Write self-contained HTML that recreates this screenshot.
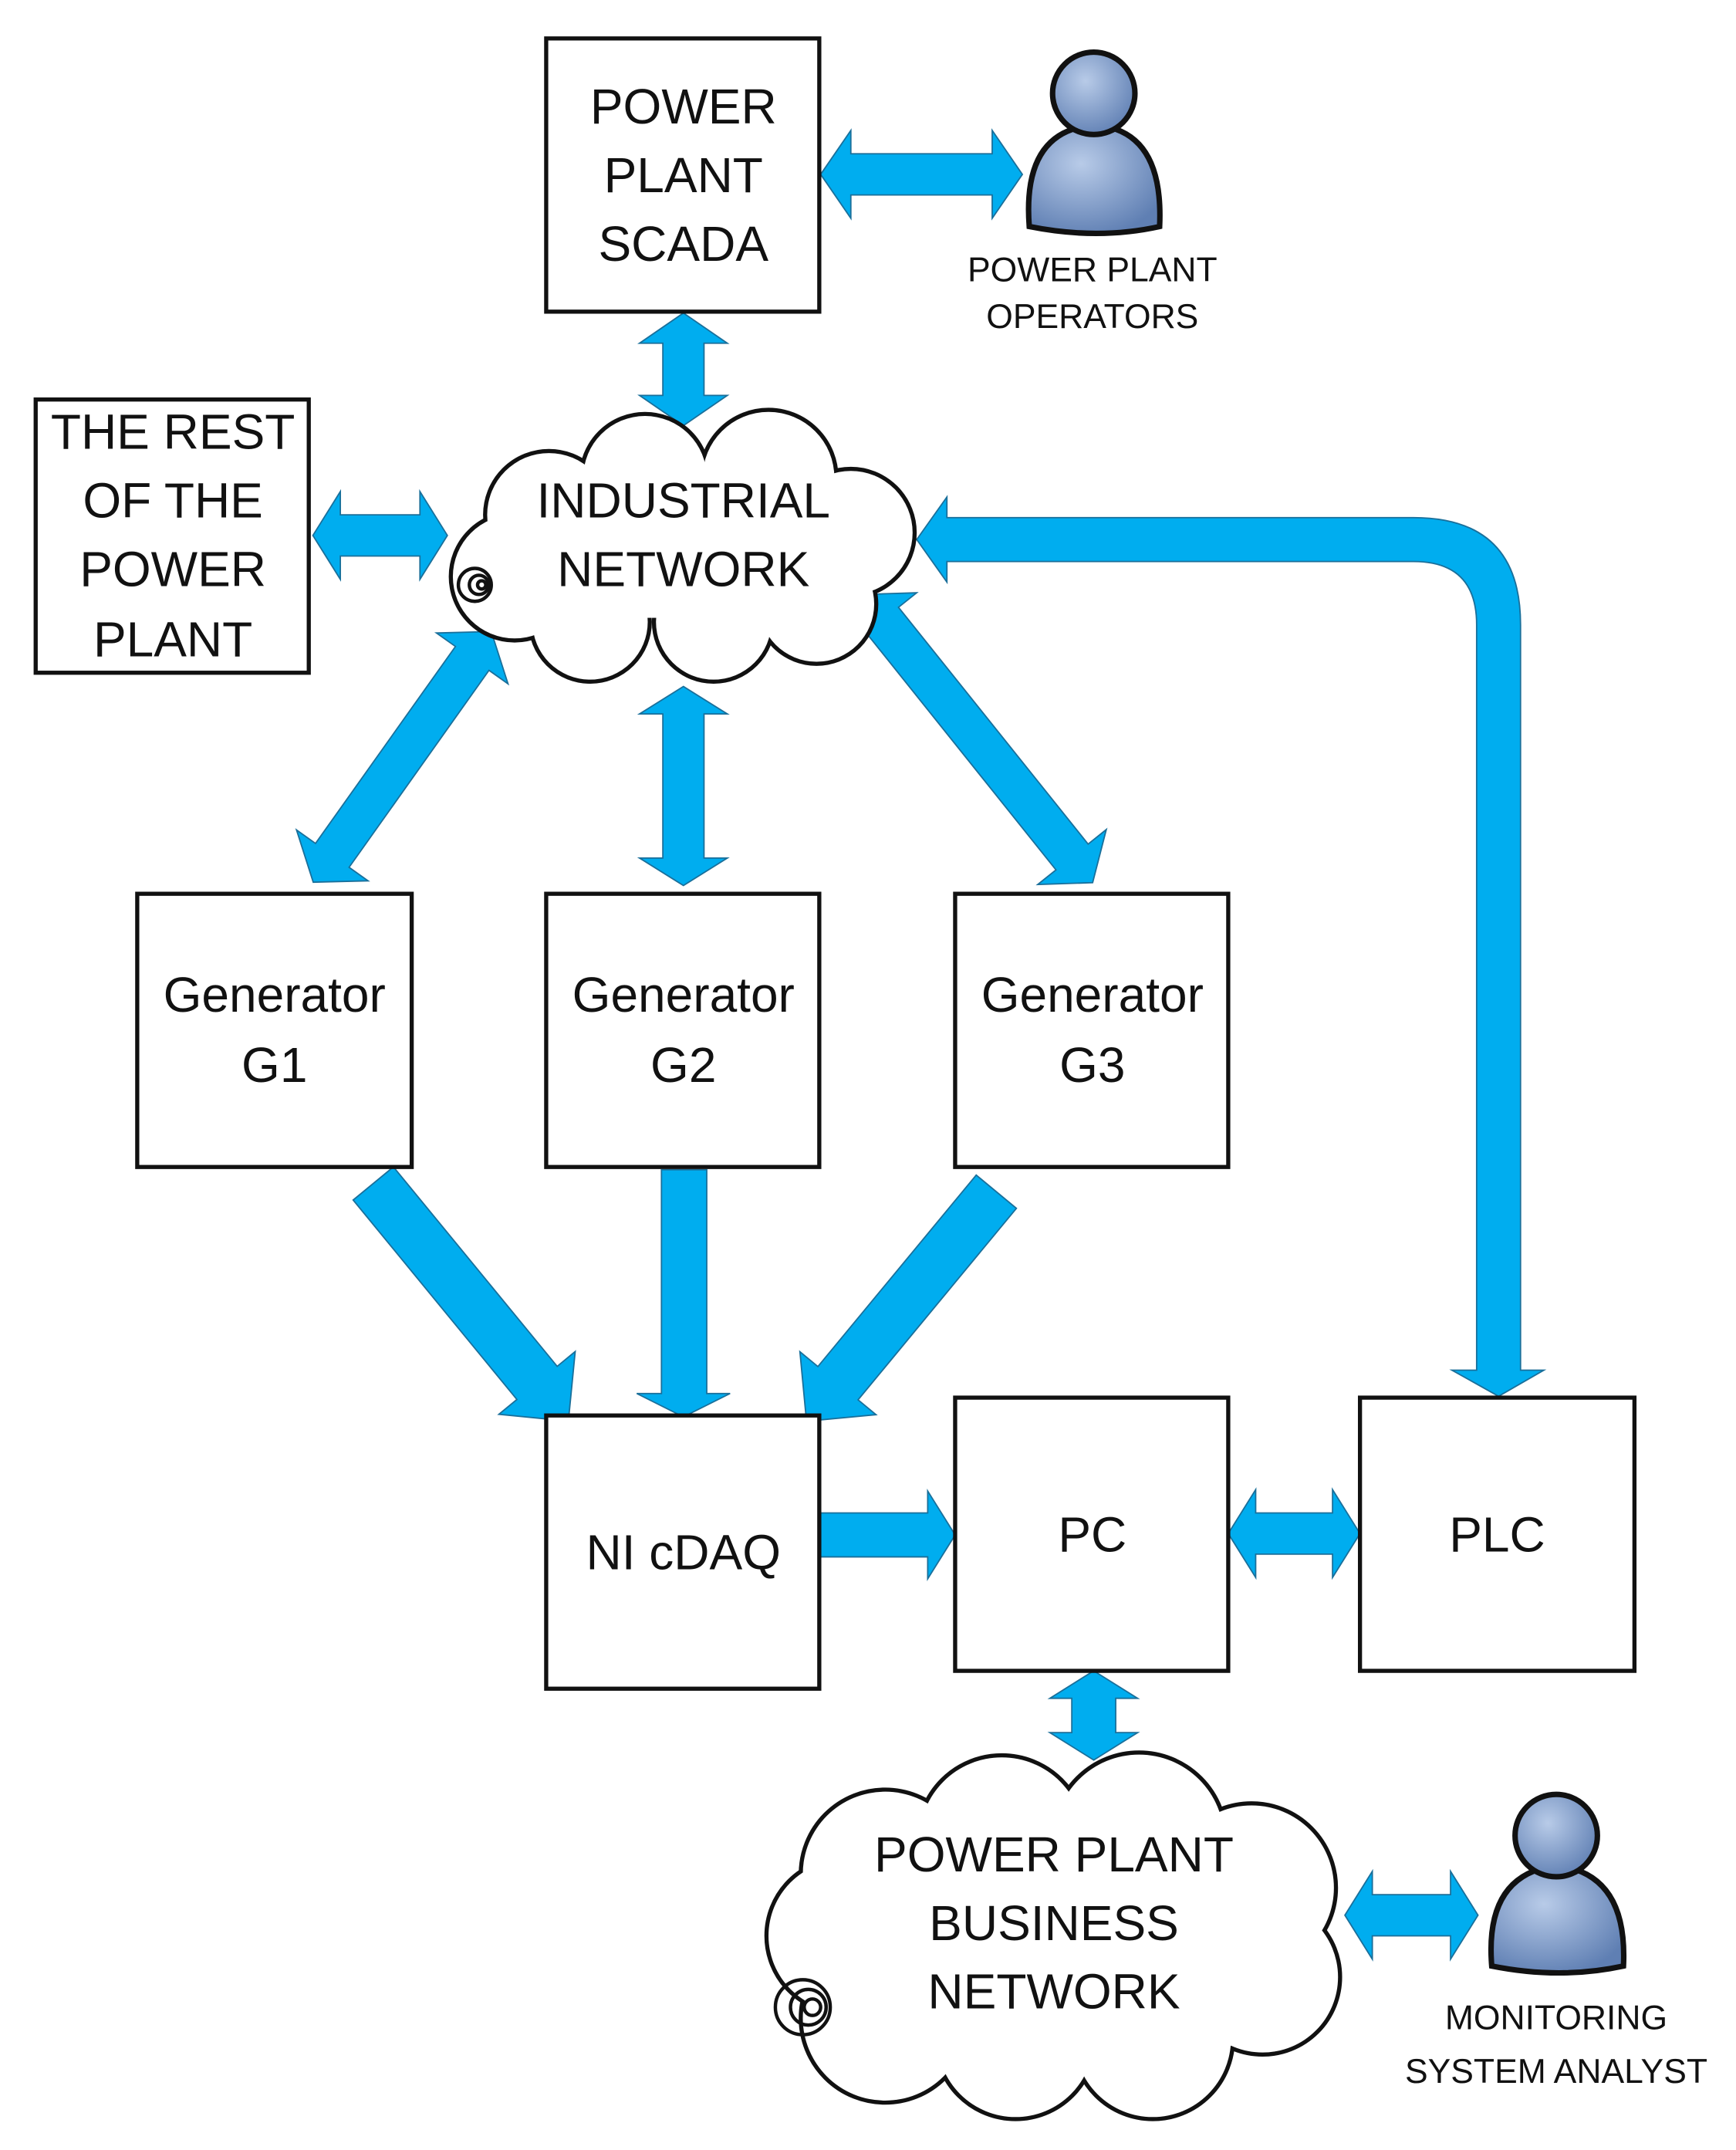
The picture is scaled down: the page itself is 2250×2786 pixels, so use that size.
<!DOCTYPE html>
<html><head><meta charset="utf-8"><style>
html,body{margin:0;padding:0;background:#fff;}
svg{display:block}
text{font-family:"Liberation Sans",sans-serif;fill:#111;text-anchor:middle}
</style></head><body>
<svg width="2250" height="2786" viewBox="0 0 1265 1566" preserveAspectRatio="none" xmlns="http://www.w3.org/2000/svg">
<defs>
<radialGradient id="pg" cx="0.4" cy="0.35" r="0.7">
<stop offset="0" stop-color="#b8cbe8"/><stop offset="1" stop-color="#5f7fb3"/></radialGradient>
</defs>
<g fill="#00adef" stroke="#1a6f9a" stroke-width="1">
<polygon points="598,127 620,95 620,112 723,112 723,95 745,127 723,159 723,142 620,142 620,159"/>
<polygon points="498,228 530,250 513,250 513,288 530,288 498,310 466,288 483,288 483,250 466,250"/>
<polygon points="228,390 248,358 248,375 306,375 306,358 326,390 306,422 306,405 248,405 248,422"/>
<polygon points="498,500 530,520 513,520 513,625 530,625 498,645 466,625 483,625 483,520 466,520"/>
<g transform="translate(358,460) rotate(125.4)"><polygon points="0,0 24,-32 24,-15 200,-15 200,-32 224,0 200,32 200,15 24,15 24,32"/></g>
<g transform="translate(628,433) rotate(51.3)"><polygon points="0,0 24,-32 24,-15 245,-15 245,-32 269,0 245,32 245,15 24,15 24,32"/></g>
<g transform="translate(272,862) rotate(50.6)"><polygon points="0,-19 188,-19 188,-36 224,0 188,36 188,19 0,19"/></g>
<polygon points="482,852 515,852 515,1015 532,1015 498,1032 464,1015 482,1015"/>
<g transform="translate(726,868) rotate(129.6)"><polygon points="0,-19 181,-19 181,-36 217,0 181,36 181,19 0,19"/></g>
<polygon points="598,1102 676,1102 676,1086 696,1118 676,1150 676,1134 598,1134"/>
<polygon points="895,1117 915,1085 915,1102 971,1102 971,1085 991,1117 971,1149 971,1132 915,1132 915,1149"/>
<polygon points="797,1217 829,1237 813,1237 813,1262 829,1262 797,1282 765,1262 781,1262 781,1237 765,1237"/>
<polygon points="980,1395 1000,1363 1000,1380 1057,1380 1057,1363 1077,1395 1057,1427 1057,1410 1000,1410 1000,1427"/>
<path d="M668,393 L690,362 L690,377 L1030,377 Q1108,377 1108,455 L1108,998 L1125,998 L1092,1017 L1058,998 L1076,998 L1076,455 Q1076,409 1030,409 L690,409 L690,424 Z"/>
</g>
<g fill="#fff" stroke="#111" stroke-width="3">
<rect x="398" y="28" width="199" height="199"/>
<rect x="26" y="291" width="199" height="199"/>
<rect x="100" y="651" width="200" height="199"/>
<rect x="398" y="651" width="199" height="199"/>
<rect x="696" y="651" width="199" height="199"/>
<rect x="398" y="1031" width="199" height="199"/>
<rect x="696" y="1018" width="199" height="199"/>
<rect x="991" y="1018" width="200" height="199"/>
</g>
<g fill="#fff" stroke="#111" stroke-width="6">
<circle cx="400" cy="375" r="45"/><circle cx="470" cy="348" r="45"/><circle cx="560" cy="348" r="48"/><circle cx="620" cy="388" r="45"/><circle cx="595" cy="440" r="42"/><circle cx="520" cy="453" r="42"/><circle cx="430" cy="453" r="42"/><circle cx="375" cy="420" r="45"/>
<circle cx="645" cy="1365" r="60"/><circle cx="730" cy="1340" r="60"/><circle cx="830" cy="1340" r="62"/><circle cx="912" cy="1375" r="60"/><circle cx="920" cy="1440" r="55"/><circle cx="840" cy="1485" r="57"/><circle cx="740" cy="1485" r="57"/><circle cx="645" cy="1470" r="60"/><circle cx="615" cy="1410" r="55"/>
</g>
<g fill="#fff">
<circle cx="400" cy="375" r="45"/><circle cx="470" cy="348" r="45"/><circle cx="560" cy="348" r="48"/><circle cx="620" cy="388" r="45"/><circle cx="595" cy="440" r="42"/><circle cx="520" cy="453" r="42"/><circle cx="430" cy="453" r="42"/><circle cx="375" cy="420" r="45"/><rect x="400" y="360" width="200" height="90"/>
<circle cx="645" cy="1365" r="60"/><circle cx="730" cy="1340" r="60"/><circle cx="830" cy="1340" r="62"/><circle cx="912" cy="1375" r="60"/><circle cx="920" cy="1440" r="55"/><circle cx="840" cy="1485" r="57"/><circle cx="740" cy="1485" r="57"/><circle cx="645" cy="1470" r="60"/><circle cx="615" cy="1410" r="55"/><rect x="640" y="1360" width="280" height="130"/>
</g>
<g fill="none" stroke="#111" stroke-width="2.5">
<circle cx="346" cy="426" r="12"/><circle cx="349" cy="426" r="7"/><circle cx="351" cy="426" r="3"/>
<circle cx="585" cy="1462" r="20"/><circle cx="589" cy="1462" r="13"/><circle cx="592" cy="1462" r="6"/>
</g>
<g stroke="#111" stroke-width="4" fill="url(#pg)">
<path d="M750,165 Q745,100 790,92 L805,92 Q848,100 845,165 Q800,175 750,165 Z"/>
<circle cx="797" cy="68" r="30"/>
<path d="M1087,1432 Q1082,1370 1127,1360 L1142,1360 Q1186,1370 1183,1432 Q1137,1442 1087,1432 Z"/>
<circle cx="1134" cy="1337" r="30"/>
</g>
<g font-size="36">
<text x="498" y="90">POWER</text><text x="498" y="140">PLANT</text><text x="498" y="190">SCADA</text>
<text x="126" y="327">THE REST</text><text x="126" y="377">OF THE</text><text x="126" y="427">POWER</text><text x="126" y="478">PLANT</text>
<text x="498" y="377">INDUSTRIAL</text><text x="498" y="427">NETWORK</text>
<text x="200" y="737">Generator</text><text x="200" y="788">G1</text>
<text x="498" y="737">Generator</text><text x="498" y="788">G2</text>
<text x="796" y="737">Generator</text><text x="796" y="788">G3</text>
<text x="498" y="1143">NI cDAQ</text>
<text x="796" y="1130">PC</text>
<text x="1091" y="1130">PLC</text>
<text x="768" y="1363">POWER PLANT</text><text x="768" y="1413">BUSINESS</text><text x="768" y="1463">NETWORK</text>
</g>
<g font-size="25">
<text x="796" y="205">POWER PLANT</text><text x="796" y="239">OPERATORS</text>
<text x="1134" y="1478">MONITORING</text><text x="1134" y="1517">SYSTEM ANALYST</text>
</g>
</svg>
</body></html>
